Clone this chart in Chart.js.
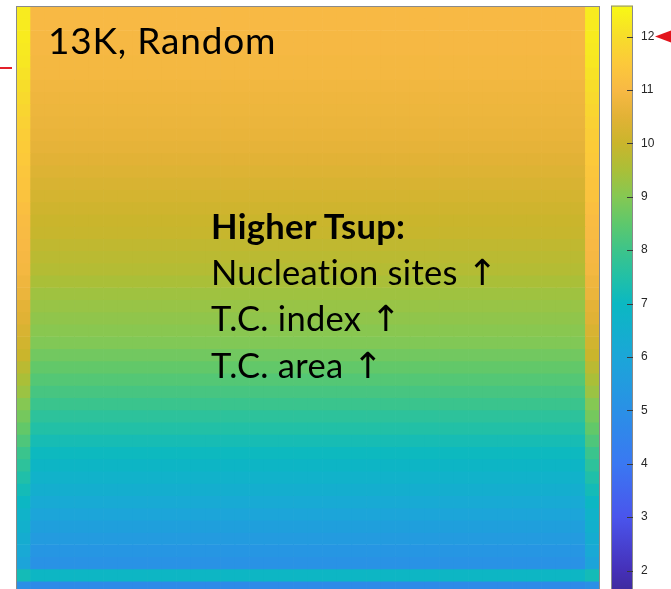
<!DOCTYPE html>
<html>
<head>
<meta charset="utf-8">
<script src="https://cdn.jsdelivr.net/npm/chart.js@4.4.1/dist/chart.umd.min.js"></script>
<style>
  body{margin:0;background:#fff;width:671px;height:589px;overflow:hidden;position:relative}
  #map{position:absolute;left:0;top:0}
  #bar{position:absolute;left:611px;top:0}
  .txt{position:absolute;color:#000;font-family:Lato,'DejaVu Sans',sans-serif;white-space:nowrap}
  #title{left:48px;top:18px;font-size:37px;line-height:44px;letter-spacing:0.8px}
  #note{left:211px;top:203px;font-size:34.5px;line-height:45.7px;letter-spacing:0.3px}
  .ar{font-family:'DejaVu Sans';font-size:36px}
  #mark{position:absolute;left:0;top:67px;width:12px;height:2px;background:#e3202a}
</style>
</head>
<body>
<canvas id="map" width="671" height="600"></canvas>
<canvas id="bar" width="60" height="600"></canvas>
<div id="mark"></div>
<div class="txt" id="title">13K, Random</div>
<div class="txt" id="note"><b>Higher Tsup:</b><br>Nucleation sites <span class="ar">↑</span><br>T.C. index <span class="ar">↑</span><br>T.C. area <span class="ar">↑</span></div>
<script>
'use strict';

// colour value per row band, top to bottom (interior of the sample)
let rowCenter=[11.0,11.0,10.95,10.95,10.9,10.9,10.85,10.8,10.75,10.7,10.65,10.6,10.5,10.4,10.3,10.2,
  10.1,10.0,9.95,9.85,9.75,9.65,9.5,9.35,9.25,9.15,9.05,8.95,8.75,8.55,8.35,8.15,
  7.95,7.7,7.5,7.25,7.05,6.85,6.65,6.45,6.2,5.95,5.7,5.5,5.25,5.1,6.9,4.8];
// the warmer stripe along left and right edges
let rowEdge=[12.3,12.3,12.3,12.25,12.2,12.1,12.0,11.9,11.8,11.7,11.6,11.55,11.5,11.4,11.35,11.3,
  11.2,11.1,11.05,11.0,10.95,10.9,10.8,10.7,10.55,10.45,10.3,10.15,10.0,9.75,9.5,9.3,
  9.0,8.8,8.55,8.25,7.95,7.7,7.45,7.2,6.95,6.7,6.55,6.35,6.15,5.9,7.2,5.0];
let columns=[];
for(let i=1;i<=40;i++){
  columns.push(i);
}
let colorTicks=[2,3,4,5,6,7,8,9,10,11,12];
let colorMin=1.57;
let colorMax=12.58;

// colormap as it looks on the reference colour bar
let cmapValues=[1.57,2,3,4,5,6,7,7.5,8,8.5,9,9.5,10,10.5,11,11.5,12,12.58];
let cmapColors=['#3e2a9a','#4530b8','#4a55ec','#3a78f2','#2a90e6','#1ba6d8','#0bb8c2','#22c0a6',
  '#3dc48a','#5ec86c','#85c853','#aabf38','#cab52c','#e2b236','#f8b944','#fcc93a','#f7dd2a','#f8f914'];

function hexRgb(h){
  return [parseInt(h.slice(1,3),16),parseInt(h.slice(3,5),16),parseInt(h.slice(5,7),16)];
}

function cmap(v){
  v=Math.max(colorMin,Math.min(colorMax,v));
  for(let i=0;i<cmapValues.length-1;i++){
    if(v<=cmapValues[i+1]){
      let f=(v-cmapValues[i])/(cmapValues[i+1]-cmapValues[i]);
      let a=hexRgb(cmapColors[i]);
      let b=hexRgb(cmapColors[i+1]);
      let c=a.map((x,k)=>Math.round(x+(b[k]-x)*f));
      return 'rgb('+c.join(',')+')';
    }
  }
  return cmapColors[cmapColors.length-1];
}

const framePlugin={
  id:'frame',
  afterDraw(chart){
    let a=chart.chartArea;
    let ctx=chart.ctx;
    ctx.save();
    ctx.strokeStyle='#8a8a8a';
    ctx.lineWidth=1;
    ctx.strokeRect(a.left+0.5,a.top+0.5,a.right-a.left-1,a.bottom-a.top-1);
    ctx.restore();
  }
};

let datasets=[];
for(let r=0;r<rowCenter.length;r++){
  datasets.push({
    data:columns.map(()=>[r,r+1]),
    backgroundColor:columns.map((c,i)=>cmap(i===0||i===columns.length-1?rowEdge[r]:rowCenter[r])),
    borderWidth:0,
    categoryPercentage:1,
    barPercentage:1,
    grouped:false
  });
}

new Chart(document.getElementById('map').getContext('2d'),{
  type:'bar',
  data:{labels:columns,datasets:datasets},
  options:{
    responsive:false,
    animation:false,
    events:[],
    layout:{padding:{left:16,top:6,right:71,bottom:6.5}},
    plugins:{legend:{display:false},tooltip:{enabled:false}},
    scales:{
      x:{display:false},
      y:{display:false,min:0,max:rowCenter.length,reverse:true}
    }
  },
  plugins:[framePlugin]
});

const barTicks={
  id:'barTicks',
  afterDraw(chart){
    let a=chart.chartArea;
    let y=chart.scales.y;
    let ctx=chart.ctx;
    ctx.save();
    ctx.strokeStyle='#3a3a3a';
    ctx.lineWidth=1;
    colorTicks.forEach(v=>{
      let p=Math.round(y.getPixelForValue(v))+0.5;
      ctx.beginPath();
      ctx.moveTo(a.right-6,p);
      ctx.lineTo(a.right,p);
      ctx.stroke();
    });
    // red pointer at the top tick
    let p12=y.getPixelForValue(12);
    ctx.fillStyle='#e3141c';
    ctx.beginPath();
    ctx.moveTo(44,p12);
    ctx.lineTo(60,p12-6);
    ctx.lineTo(60,p12+6);
    ctx.closePath();
    ctx.fill();
    ctx.restore();
  }
};

new Chart(document.getElementById('bar').getContext('2d'),{
  type:'bar',
  data:{
    labels:['c'],
    datasets:[{
      data:[[colorMin,colorMax]],
      backgroundColor:function(context){
        let chart=context.chart;
        let a=chart.chartArea;
        if(!a){
          return cmap(7);
        }
        let g=chart.ctx.createLinearGradient(0,a.bottom,0,a.top);
        cmapValues.forEach((v,i)=>{
          g.addColorStop((v-colorMin)/(colorMax-colorMin),cmapColors[i]);
        });
        return g;
      },
      borderWidth:0,
      categoryPercentage:1,
      barPercentage:1
    }]
  },
  options:{
    responsive:false,
    animation:false,
    events:[],
    layout:{padding:{left:0,top:5.6,right:0,bottom:6.5}},
    plugins:{legend:{display:false},tooltip:{enabled:false}},
    scales:{
      x:{display:false},
      y:{
        position:'right',
        min:colorMin,
        max:colorMax,
        afterBuildTicks:function(scale){
          scale.ticks=colorTicks.map(v=>({value:v}));
        },
        afterFit:function(scale){
          scale.width=38;
          scale.paddingTop=0;
          scale.paddingBottom=0;
        },
        grid:{display:false,drawTicks:false},
        border:{display:false},
        ticks:{
          color:'#262626',
          padding:8,
          font:{family:'Liberation Sans',size:12}
        }
      }
    }
  },
  plugins:[framePlugin,barTicks]
});
</script>
</body>
</html>
